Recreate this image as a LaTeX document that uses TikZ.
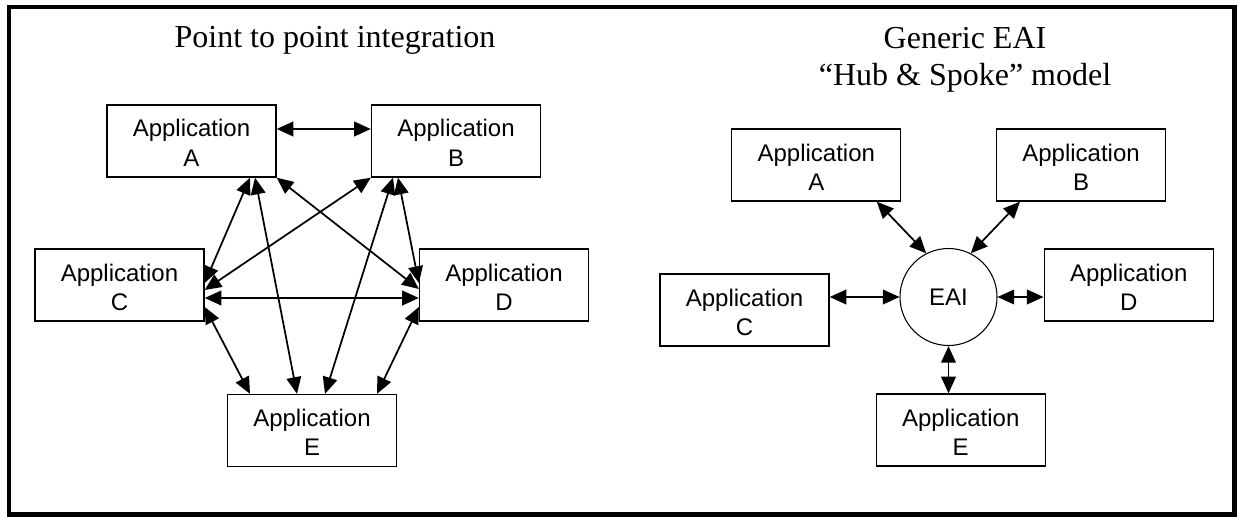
\documentclass[tikz,border=0pt]{standalone}
\usepackage{fontspec}
\setmainfont{Liberation Serif}
\setsansfont{Liberation Sans}
\usetikzlibrary{arrows.meta,calc}

\begin{document}
\begin{tikzpicture}[x=0.75pt, y=-0.75pt,
        app/.style={draw, line width=1pt, minimum width=126.75pt, minimum height=54pt, inner sep=0pt, text height=37.5pt, text depth=0pt, align=center, font=\sffamily\fontsize{18}{21.75}\selectfont},
        hub/.style={draw, circle, line width=0.8pt, minimum size=72.75pt, inner sep=0pt, font=\sffamily\fontsize{18}{21.75}\selectfont},
        link/.style={{Triangle[length=12.5pt,width=11pt]}-{Triangle[length=12.5pt,width=11pt]}, line width=1.3pt},
        heading/.style={inner sep=0pt, align=center, font=\fontsize{24}{27.75}\selectfont}]
        \useasboundingbox (0,0) rectangle (1238,517);
        \draw[line width=3.5pt] (9,7) rectangle (1234.5,514.5);

        \node[heading, anchor=base] (pptitle) at (335,48) {Point to point integration};
        \node[app] (pA) at (191.5,141) {Application\\A};
        \node[app] (pB) at (456,141) {Application\\B};
        \node[app] (pC) at (119.5,285) {Application\\C};
        \node[app] (pD) at (504,285) {Application\\D};
        \node[app] (pE) at (312,430.5) {Application\\E};
        \draw[link] ($(pA.east)+(0,-12)$) -- ($(pB.west)+(0,-12)$);
        \draw[link] ($(pC.east)+(0,13)$) -- ($(pD.west)+(0,13)$);
        \draw[link] ($(pA.south)+(58.5,0)$) -- ($(pC.east)+(0,-2)$);
        \draw[link] ($(pA.south)+(63.5,0)$) -- ($(pE.north)+(-15,0)$);
        \draw[link] (pA.south east) -- ($(pD.west)+(0,4)$);
        \draw[link] (pB.south west) -- ($(pC.east)+(0,5)$);
        \draw[link] ($(pB.south)+(-63,0)$) -- ($(pE.north)+(13,0)$);
        \draw[link] ($(pB.south)+(-58,0)$) -- ($(pD.west)+(0,-2)$);
        \draw[link] ($(pC.east)+(0,22)$) -- ($(pE.north)+(-62,0)$);
        \draw[link] ($(pD.west)+(0,22)$) -- ($(pE.north)+(65,0)$);

        \node[heading, anchor=north] (hubtitle) at (965,27) {Generic EAI\\“Hub \& Spoke” model};
        \node[app] (hA) at (816.3,165) {Application\\A};
        \node[app] (hB) at (1081,165) {Application\\B};
        \node[app] (hC) at (744.5,310) {Application\\C};
        \node[app] (hD) at (1128.7,285) {Application\\D};
        \node[app] (hE) at (960.7,430) {Application\\E};
        \node[hub] (eai) at (948.5,297) {EAI};
        \draw[link] ($(hA.south)+(60.5,0)$) -- (eai.117);
        \draw[link] ($(hB.south)+(-61,0)$) -- (eai.63);
        \draw[link] (hC.east |- eai) -- (eai.west);
        \draw[link] (eai.east) -- (eai -| hD.west);
        \draw[link] (eai.south) -- (eai.south |- hE.north);
\end{tikzpicture}
\end{document}
